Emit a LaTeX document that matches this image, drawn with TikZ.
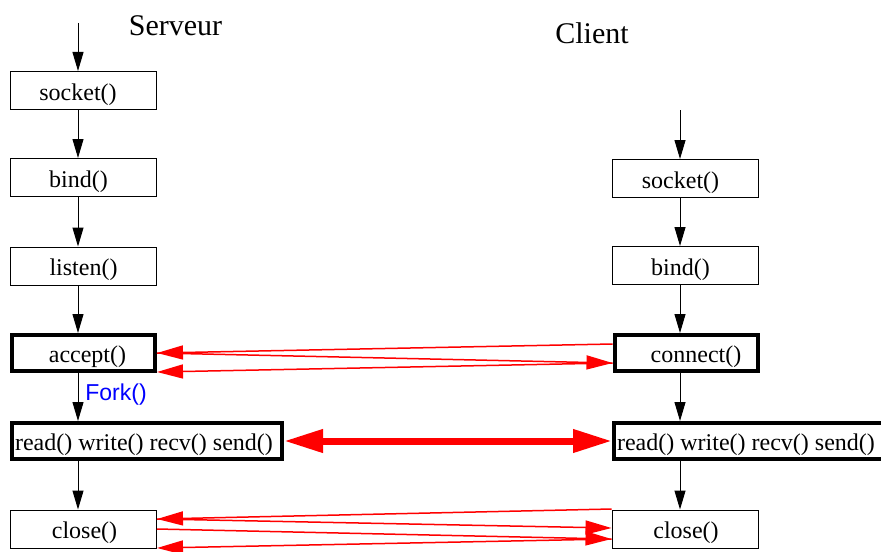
\documentclass[tikz,border=0pt]{standalone}
\usepackage{fontspec}
\setmainfont{Liberation Serif}
\newfontfamily\forkfont{Liberation Sans}
\usetikzlibrary{arrows.meta,calc}

\begin{document}
\begin{tikzpicture}[x=0.5pt,y=-0.5pt,
  call/.style={draw,line width=0.5pt,minimum width=73pt,minimum height=19pt,inner sep=0pt,text height=9.5pt,text depth=0pt,font=\fontsize{12}{14}\selectfont},
  busy/.style={call,line width=2pt,minimum width=71.5pt,minimum height=18pt},
  tx/.style={execute at begin node={\hspace*{#1pt}}},
  flow/.style={-{Triangle[length=9.5pt,width=5.5pt]},line width=0.5pt},
  msg/.style={-{Triangle[length=13pt,width=7pt]},red,line width=0.75pt},
  data/.style={{Triangle[length=19.5pt,width=11pt]}-{Triangle[length=19.5pt,width=11pt]},red,line width=3.5pt}]

\useasboundingbox (0,0) rectangle (881,551);

% titres
\node[font=\fontsize{15}{18}\selectfont,anchor=base] (tServ) at (175.5,36) {Serveur};
\node[font=\fontsize{15}{18}\selectfont,anchor=base] (tCli) at (592,44) {Client};

% serveur
\node[call,tx=-5.5] (sSock) at (83.5,90.5) {socket()};
\node[call,tx=-5] (sBind) at (83.5,177.5) {bind()};
\node[call] (sListen) at (83.5,266) {listen()};
\node[busy,tx=4] (sAcc) at (83.5,353) {accept()};
\node[busy,tx=-3,minimum width=135pt] (sRW) at (147,441) {read() write() recv() send()};
\node[call,tx=1] (sClose) at (83.5,529) {close()};

% client
\node[call,tx=-5] (cSock) at (685.5,178.5) {socket()};
\node[call,tx=-5] (cBind) at (685.5,265.5) {bind()};
\node[busy,tx=10] (cConn) at (686,353) {connect()};
\node[busy,tx=-3,minimum width=135pt] (cRW) at (749,441) {read() write() recv() send()};
\node[call,tx=1] (cClose) at (685,529) {close()};

\node[font=\forkfont\fontsize{11.5}{14}\selectfont,text=blue,anchor=base west,inner sep=0pt] (fork) at (85,400) {Fork()};

% enchainement des appels
\coordinate (sTop) at (78,23);
\coordinate (cTop) at (680,110);
\draw[flow] (sTop) -- (sSock.north -| sTop);
\draw[flow] (sSock.south -| sTop) -- (sBind.north -| sTop);
\draw[flow] (sBind.south -| sTop) -- (sListen.north -| sTop);
\draw[flow] (sListen.south -| sTop) -- (sAcc.north -| sTop);
\draw[flow] (sAcc.south -| sTop) -- (sRW.north -| sTop);
\draw[flow] (sRW.south -| sTop) -- (sClose.north -| sTop);

\draw[flow] (cTop) -- (cSock.north -| cTop);
\draw[flow] (cSock.south -| cTop) -- (cBind.north -| cTop);
\draw[flow] (cBind.south -| cTop) -- (cConn.north -| cTop);
\draw[flow] (cConn.south -| cTop) -- (cRW.north -| cTop);
\draw[flow] (cRW.south -| cTop) -- (cClose.north -| cTop);

% connexion
\draw[msg] ($(cConn.west)+(0,-9)$) -- (sAcc.east);
\draw[msg] (sAcc.east) -- ($(cConn.west)+(0,10)$);
\draw[msg] ($(cConn.west)+(0,10)$) -- ($(sAcc.east)+(0,19)$);

% echanges
\draw[data] (sRW.east) -- (cRW.west);

% fermeture
\draw[msg] ($(cClose.west)+(0,-20)$) -- ($(sClose.east)+(0,-10)$);
\draw[msg] ($(sClose.east)+(0,-10)$) -- ($(cClose.west)+(0,-1)$);
\draw[msg] (sClose.east) -- ($(cClose.west)+(0,10)$);
\draw[msg] ($(cClose.west)+(0,10)$) -- ($(sClose.east)+(0,19)$);

\end{tikzpicture}
\end{document}
